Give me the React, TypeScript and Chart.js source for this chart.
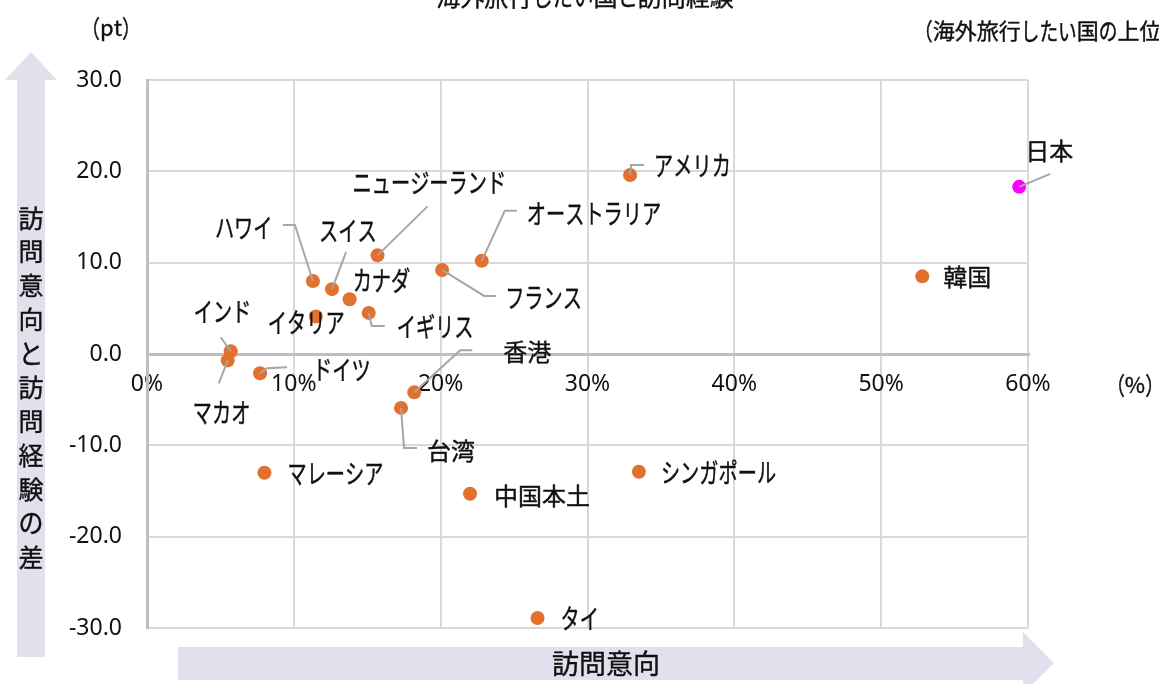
import React, { useEffect, useRef } from "react";
import { Chart, registerables } from "chart.js";

Chart.register(...registerables);

// ---- data ----
const places = [
  "日本", "韓国", "アメリカ", "オーストラリア", "フランス", "ニュージーランド", "ハワイ",
  "スイス", "カナダ", "イギリス", "イタリア", "インド", "マカオ", "ドイツ", "香港", "台湾",
  "マレーシア", "中国本土", "シンガポール", "タイ",
];
const visitIntention = [
  59.4, 52.8, 32.9, 22.8, 20.1, 15.7, 11.3, 12.6, 13.8, 15.1, 11.5, 5.7, 5.5, 7.7, 18.2, 17.3,
  8.0, 22.0, 33.5, 26.6,
];
const intentionMinusExperience = [
  18.3, 8.5, 19.6, 10.2, 9.2, 10.8, 8.0, 7.1, 6.0, 4.5, 4.1, 0.3, -0.7, -2.1, -4.2, -5.9,
  -13.0, -15.3, -12.9, -28.9,
];
const highlighted = ["日本"];

const titleText = "海外旅行したい国と訪問経験";
const noteText = "（海外旅行したい国の上位20か国・地域）";
const yUnit = "（pt）";
const xUnit = "（%）";
const yAxisTitle = "訪問意向と訪問経験の差";
const xAxisTitle = "訪問意向";

// ---- label placement (pixel offsets from each point) ----
const labelLayout: { dx: number; dy: number; leader?: number[][] }[] = [
  { dx: 6, dy: -36, leader: [[0, 0], [31, -13]] },
  { dx: 21, dy: 1 },
  { dx: 24, dy: -9, leader: [[0, 0], [1, -10], [14, -10]] },
  { dx: 45, dy: -47, leader: [[0, 0], [23, -50], [35, -50]] },
  { dx: 63, dy: 28, leader: [[0, 0], [42, 26], [54, 26]] },
  { dx: -25, dy: -73, leader: [[0, 0], [50, -49]] },
  { dx: -98, dy: -53, leader: [[0, 0], [-18, -56], [-30, -56]] },
  { dx: -13, dy: -58, leader: [[0, 0], [14, -37]] },
  { dx: 3, dy: -18 },
  { dx: 28, dy: 14, leader: [[0, 0], [3, 13], [16, 13]] },
  { dx: -48, dy: 6 },
  { dx: -37, dy: -39, leader: [[0, 0], [-10, -14]] },
  { dx: -35, dy: 52, leader: [[0, 0], [-9, 23]] },
  { dx: 53, dy: -3, leader: [[0, 0], [7, -5], [27, -6]] },
  { dx: 89, dy: -40, leader: [[0, 0], [46, -42], [58, -42]] },
  { dx: 26, dy: 43, leader: [[0, 0], [3, 40], [16, 40]] },
  { dx: 23, dy: 1 },
  { dx: 24, dy: 2 },
  { dx: 22, dy: 1 },
  { dx: 23, dy: 1 },
];

const JP = '"Noto Sans CJK JP", "Noto Sans", sans-serif';
const NUM = '"Noto Sans", "Open Sans", sans-serif';
const TEXT = "#111111";
const ORANGE = "#E2702F";
const MAGENTA = "#FF00FF";
const GRID = "#D9D9D9";
const AXIS = "#BFBFBF";
const ARROW = "#E3DFEC";
const LEADER = "#A6A6A6";

const narrowRe = /[\u3040-\u30ff\uff08\uff09]/;

function jpWidth(ctx: CanvasRenderingContext2D, text: string, sx: number) {
  let w = 0;
  for (const ch of text) {
    const cw = ctx.measureText(ch).width;
    w += narrowRe.test(ch) ? cw * sx : cw;
  }
  return w;
}

function drawJP(
  ctx: CanvasRenderingContext2D,
  text: string,
  x: number,
  y: number,
  size: number,
  align: "left" | "center" = "left",
  baseline: CanvasTextBaseline = "middle",
  sx = 0.8,
  sy = 1,
  bold = 0.4
) {
  ctx.save();
  ctx.font = `${size}px ${JP}`;
  ctx.textBaseline = baseline;
  ctx.textAlign = "left";
  ctx.fillStyle = TEXT;
  ctx.strokeStyle = TEXT;
  ctx.lineWidth = bold;
  ctx.lineJoin = "round";
  let cx = x;
  if (align === "center") cx = x - jpWidth(ctx, text, sx) / 2;
  for (const ch of text) {
    const cw = ctx.measureText(ch).width;
    const narrow = narrowRe.test(ch);
    const s = narrow ? sx : 1;
    ctx.save();
    ctx.translate(cx, y);
    ctx.scale(s, narrow ? sy : 1);
    ctx.fillText(ch, 0, 0);
    if (bold > 0) ctx.strokeText(ch, 0, 0);
    ctx.restore();
    cx += cw * s;
  }
  ctx.restore();
}

const decorPlugin = {
  id: "decor",
  beforeDraw(chart: any) {
    const ctx: CanvasRenderingContext2D = chart.ctx;
    ctx.save();
    ctx.fillStyle = "#ffffff";
    ctx.fillRect(0, 0, chart.width, chart.height);
    // vertical arrow
    ctx.fillStyle = ARROW;
    ctx.beginPath();
    ctx.moveTo(17, 657);
    ctx.lineTo(17, 80);
    ctx.lineTo(5, 80);
    ctx.lineTo(31, 52);
    ctx.lineTo(57, 80);
    ctx.lineTo(45, 80);
    ctx.lineTo(45, 657);
    ctx.closePath();
    ctx.fill();
    // horizontal arrow
    ctx.beginPath();
    ctx.moveTo(178, 647);
    ctx.lineTo(1023, 647);
    ctx.lineTo(1023, 632);
    ctx.lineTo(1054, 663);
    ctx.lineTo(1023, 694);
    ctx.lineTo(1023, 680);
    ctx.lineTo(178, 680);
    ctx.closePath();
    ctx.fill();
    ctx.restore();
  },
  afterDraw(chart: any) {
    const ctx: CanvasRenderingContext2D = chart.ctx;
    // title (cut by top edge)
    drawJP(ctx, titleText, 585, 6, 24, "center", "alphabetic", 0.85, 1.08);
    // note at top right
    drawJP(ctx, noteText, 914, 31, 22, "left", "middle", 0.85, 1.08);
    // unit labels
    drawJP(ctx, yUnit, 111, 28, 22, "center", "middle", 0.85, 1.1);
    drawJP(ctx, xUnit, 1135, 385, 22, "center", "middle", 0.85, 1.1);
    // vertical axis title
    const chars = Array.from(yAxisTitle);
    chars.forEach((ch, i) => {
      drawJP(ctx, ch, 31, 218 + i * 33.9, 25, "center", "middle", 1, 1.08);
    });
    // horizontal axis title
    drawJP(ctx, xAxisTitle, 606, 664, 27, "center", "middle", 1);
  },
  afterDatasetsDraw(chart: any) {
    const ctx: CanvasRenderingContext2D = chart.ctx;
    const meta = chart.getDatasetMeta(0);
    ctx.save();
    ctx.strokeStyle = LEADER;
    ctx.lineWidth = 2;
    meta.data.forEach((el: any, i: number) => {
      const lay = labelLayout[i];
      if (!lay || !lay.leader || lay.leader.length < 2) return;
      ctx.beginPath();
      lay.leader.forEach((p, j) => {
        const px = el.x + p[0];
        const py = el.y + p[1];
        if (j === 0) ctx.moveTo(px, py);
        else ctx.lineTo(px, py);
      });
      ctx.stroke();
    });
    ctx.restore();
    meta.data.forEach((el: any, i: number) => {
      const lay = labelLayout[i];
      if (!lay) return;
      drawJP(ctx, places[i], el.x + lay.dx, el.y + lay.dy, 24, "left", "middle", 0.8, 1.12);
    });
  },
};

export default function App() {
  const canvasRef = useRef<HTMLCanvasElement | null>(null);

  useEffect(() => {
    document.body.style.margin = "0";
    const canvas = canvasRef.current;
    if (!canvas) return;
    const points = places.map((_, i) => ({ x: visitIntention[i], y: intentionMinusExperience[i] }));
    const colors = places.map((p) => (highlighted.includes(p) ? MAGENTA : ORANGE));
    const chart = new Chart(canvas, {
      type: "scatter",
      data: {
        datasets: [
          {
            data: points,
            backgroundColor: colors,
            borderColor: colors,
            borderWidth: 0,
            pointRadius: 7,
            pointHoverRadius: 7,
          },
        ],
      },
      options: {
        animation: false,
        responsive: false,
        devicePixelRatio: 1,
        events: [],
        layout: { padding: { left: 0, right: 131, top: 80, bottom: 56 } },
        plugins: { legend: { display: false }, tooltip: { enabled: false }, title: { display: false } },
        scales: {
          x: {
            type: "linear",
            position: { y: 0 } as any,
            min: 0,
            max: 60,
            ticks: {
              stepSize: 10,
              maxRotation: 0,
              padding: 17,
              color: TEXT,
              font: { family: NUM, size: 23 },
              callback: (v: any) => `${v}%`,
            },
            grid: {
              drawTicks: false,
              color: (c: any) => (c.tick && c.tick.value === 0 ? AXIS : GRID),
              lineWidth: (c: any) => (c.tick && c.tick.value === 0 ? 3 : 2),
            },
            border: { display: true, color: AXIS, width: 3 },
          },
          y: {
            type: "linear",
            position: "left",
            min: -30,
            max: 30,
            afterFit: (s: any) => {
              s.width = 147;
            },
            ticks: {
              stepSize: 10,
              padding: 25,
              color: TEXT,
              font: { family: NUM, size: 23 },
              callback: (v: any) => Number(v).toFixed(1),
            },
            grid: {
              drawTicks: false,
              color: (c: any) => (c.tick && c.tick.value === 0 ? AXIS : GRID),
              lineWidth: (c: any) => (c.tick && c.tick.value === 0 ? 3 : 2),
            },
            border: { display: true, color: AXIS, width: 3 },
          },
        },
      },
      plugins: [decorPlugin],
    });
    return () => chart.destroy();
  }, []);

  return (
    <div style={{ width: 1159, height: 684, overflow: "hidden" }}>
      <canvas ref={canvasRef} width={1159} height={684} style={{ display: "block" }} />
    </div>
  );
}
